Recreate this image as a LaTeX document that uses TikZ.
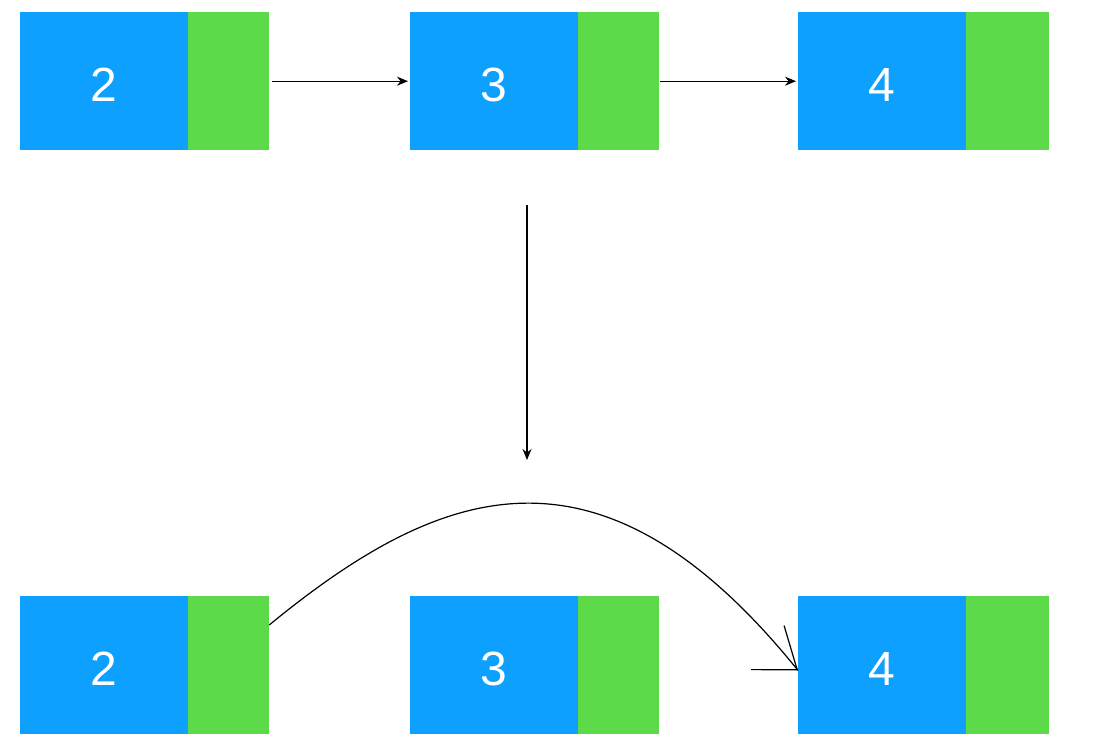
\documentclass[tikz,border=0pt]{standalone}
\usepackage{fontspec}
\setmainfont{Liberation Sans}
\usetikzlibrary{arrows.meta,positioning}
\definecolor{cellblue}{HTML}{0EA0FF}
\definecolor{cellgreen}{HTML}{5CDA4A}
\tikzset{
  val/.style={fill=cellblue, draw=none, minimum width=168pt, minimum height=138pt, inner sep=0pt, text=white, font=\fontsize{48}{48}\selectfont, anchor=north west, text height=41pt, text depth=0pt},
  ptr/.style={fill=cellgreen, draw=none, minimum width=81pt, minimum height=138pt, inner sep=0pt, anchor=west, xshift=-0.6pt},
  ptrwide/.style={ptr, minimum width=83pt},
  link/.style={-{Stealth[length=11pt,width=9pt]}, line width=1.2pt},
  curvelink/.style={line width=1.2pt},
  barbtip/.style={-{Straight Barb[length=37pt,width=55pt,line width=1.2pt]}, line width=1.2pt}
}
\begin{document}
\begin{tikzpicture}[x=1pt,y=-1pt]
\useasboundingbox (0,0) rectangle (1097,754);
% top row
\node[val] (a2) at (20,12) {2};
\node[ptr] (p2) at (a2.east) {};
\node[val] (a3) at (410,12) {3};
\node[ptr] (p3) at (a3.east) {};
\node[val] (a4) at (798,12) {4};
\node[ptrwide] (p4) at (a4.east) {};
% bottom row
\node[val] (b2) at (20,596) {2};
\node[ptr] (q2) at (b2.east) {};
\node[val] (b3) at (410,596) {3};
\node[ptr] (q3) at (b3.east) {};
\node[val] (b4) at (798,596) {4};
\node[ptrwide] (q4) at (b4.east) {};
% top links
\draw[link, shorten <=3pt, shorten >=2pt] (p2.east) -- (a3.west);
\draw[link, shorten <=1pt, shorten >=2pt] (p3.east) -- (a4.west);
% vertical arrow
\coordinate (vs) at (527,205);
\coordinate (ve) at (527,460);
\draw[link] (vs) -- (ve);
% curved link
\coordinate (cs) at ([yshift=-29pt]q2.north east);
\coordinate (ce) at ([yshift=64pt]b4.south west);
\coordinate (cb) at ([shift={(-0.8pt,0.6pt)}]ce);
\draw[curvelink] (cs) .. controls (440,485) and (600,425) .. (ce);
\draw[barbtip] (cb) -- (ce);
\end{tikzpicture}
\end{document}
